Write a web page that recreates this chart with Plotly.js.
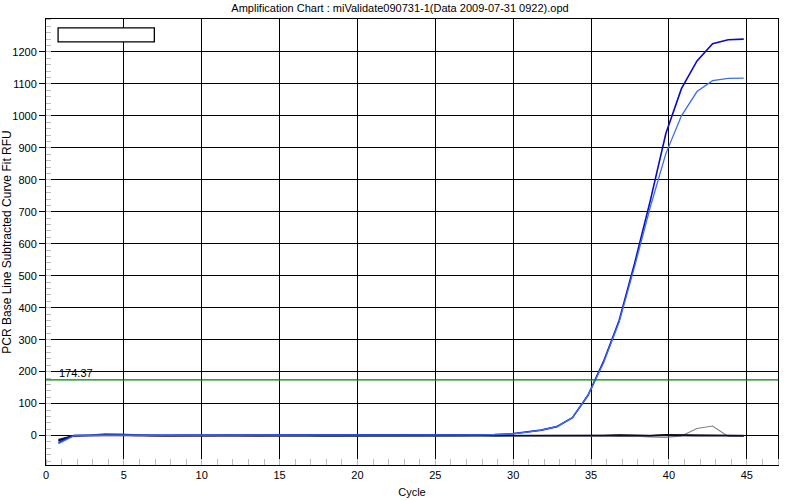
<!DOCTYPE html>
<html>
<head>
<meta charset="utf-8">
<script src="https://cdn.plot.ly/plotly-3.0.1.min.js"></script>
<style>html,body{margin:0;padding:0;background:#fff}#chart{width:800px;height:500px}</style>
</head>
<body>
<div id="chart"></div>
<script>
// Cycle positions of the plotted points
const cycles = [0.8,1.8,2.8,3.8,4.8,5.8,6.8,7.8,8.8,9.8,10.8,11.8,12.8,13.8,14.8,15.8,16.8,17.8,18.8,19.8,20.8,21.8,22.8,23.8,24.8,25.8,26.8,27.8,28.8,29.8,30.8,31.8,32.8,33.8,34.8,35.8,36.8,37.8,38.8,39.8,40.8,41.8,42.8,43.8,44.8];

// Amplifying wells
const wellDark  = [-22,0,1,1,1,1,1,1,1,1,1,1,1,1,1,1,1,1,1,1,1,1,1,1,1,1,2,2,3,5,10,17,28,56,126,232,360,540,735,945,1085,1172,1226,1238,1240];
const wellLight = [-25,0,1,1,1,1,1,0,1,1,1,1,1,1,1,1,1,1,1,1,1,1,1,1,1,1,2,2,3,5,10,17,28,56,126,228,355,530,715,882,1000,1076,1110,1117,1118];

// Non-amplifying wells
const wellGray     = [-18,0,1,4,1,0,-1,0,1,0,0,1,0,-2,0,0,0,-1,-2,-1,0,0,0,0,-2,-1,0,1,-2,-1,-1,0,0,0,-1,-1,-3,-2,-4,-6,-1,22,30,-3,-3];
const wellDarkGray = [-12,0,1,5,4,1,0,-1,0,0,0,0,0,0,0,0,0,-2,-1,-2,0,0,0,-2,-2,0,0,0,-1,-2,-1,0,0,0,0,0,1,0,0,2,0,0,0,0,0];
const wellBlack    = [-14,0,0,1,1,0,0,1,1,0,0,2,2,0,0,0,0,-1,-1,0,-1,-1,-1,0,0,0,0,-1,-1,0,0,0,0,0,0,1,2,0,0,3,2,1,2,0,0];
const wellNavy     = [-16,0,0,0,0,0,0,-2,-2,0,0,0,0,0,0,0,0,0,0,0,0,0,0,0,0,0,0,0,0,0,0,0,0,0,0,0,0,0,0,0,0,0,0,0,0];

const threshold = 174.37;
const thresholdLabel = "174.37";

const xTickVals = [0,5,10,15,20,25,30,35,40,45];
const yTickVals = [0,100,200,300,400,500,600,700,800,900,1000,1100,1200];

const mk = (y, color, width) => ({x: cycles, y: y, type: 'scatter', mode: 'lines',
  line: {color: color, width: width}, hoverinfo: 'skip', showlegend: false});

const traces = [
  mk(wellGray, '#808080', 1.1),
  mk(wellDarkGray, '#505050', 1.6),
  mk(wellBlack, '#101010', 1.2),
  mk(wellNavy, '#000080', 1.4),
  mk(wellDark, '#0A0ACD', 1.6),
  mk(wellLight, '#3B6CF2', 1.3)
];

const font = {family: 'Liberation Sans, Arial, sans-serif', size: 11, color: '#000'};

const layout = {
  width: 800, height: 500,
  margin: {l: 46, r: 22, t: 19, b: 35, pad: 0},
  paper_bgcolor: '#fff', plot_bgcolor: '#fff',
  font: font,
  title: {text: 'Amplification Chart : miValidate090731-1(Data 2009-07-31 0922).opd',
          font: {family: font.family, size: 11, color: '#000'},
          x: 0.5, xref: 'container', xanchor: 'center', y: 0.984, yref: 'container', yanchor: 'middle'},
  xaxis: {range: [0, 47], tickvals: xTickVals, ticks: '', showgrid: true, gridcolor: '#000', gridwidth: 1,
          showline: true, linecolor: '#000', linewidth: 1, mirror: true, zeroline: false,
          tickfont: {family: font.family, size: 11}, automargin: false,
          minor: {dtick: 1, ticks: 'inside', ticklen: 6, tickcolor: '#bdbdbd', tickwidth: 1, showgrid: false},
          title: {text: 'Cycle', font: {family: font.family, size: 11}, standoff: 8}},
  yaxis: {range: [-92, 1303], tickvals: yTickVals, ticks: 'outside', ticklen: 6, tickcolor: '#000',
          showgrid: true, gridcolor: '#000', gridwidth: 1,
          showline: true, linecolor: '#000', linewidth: 1, mirror: true, zeroline: false,
          tickfont: {family: font.family, size: 11}, automargin: false,
          minor: {dtick: 20, ticks: 'inside', ticklen: 5, tickcolor: '#bdbdbd', tickwidth: 1, showgrid: false},
          title: {text: 'PCR Base Line Subtracted Curve Fit RFU', font: {family: font.family, size: 12}, standoff: 0}},
  shapes: [
    {type: 'line', xref: 'paper', x0: 0, x1: 1, yref: 'y', y0: threshold, y1: threshold,
     line: {color: '#008000', width: 1.2}, layer: 'above'},
    {type: 'rect', xref: 'paper', yref: 'paper', x0: 0.0165, x1: 0.148, y0: 0.9485, y1: 0.98,
     fillcolor: '#fff', line: {color: '#000', width: 1.3}, layer: 'above'}
  ],
  annotations: [
    {x: 0.72, y: threshold, xref: 'x', yref: 'y', text: thresholdLabel, showarrow: false,
     xanchor: 'left', yanchor: 'bottom', yshift: -1, font: {family: font.family, size: 11, color: '#000'}}
  ]
};

Plotly.newPlot('chart', traces, layout, {displayModeBar: false, staticPlot: true});
</script>
</body>
</html>
